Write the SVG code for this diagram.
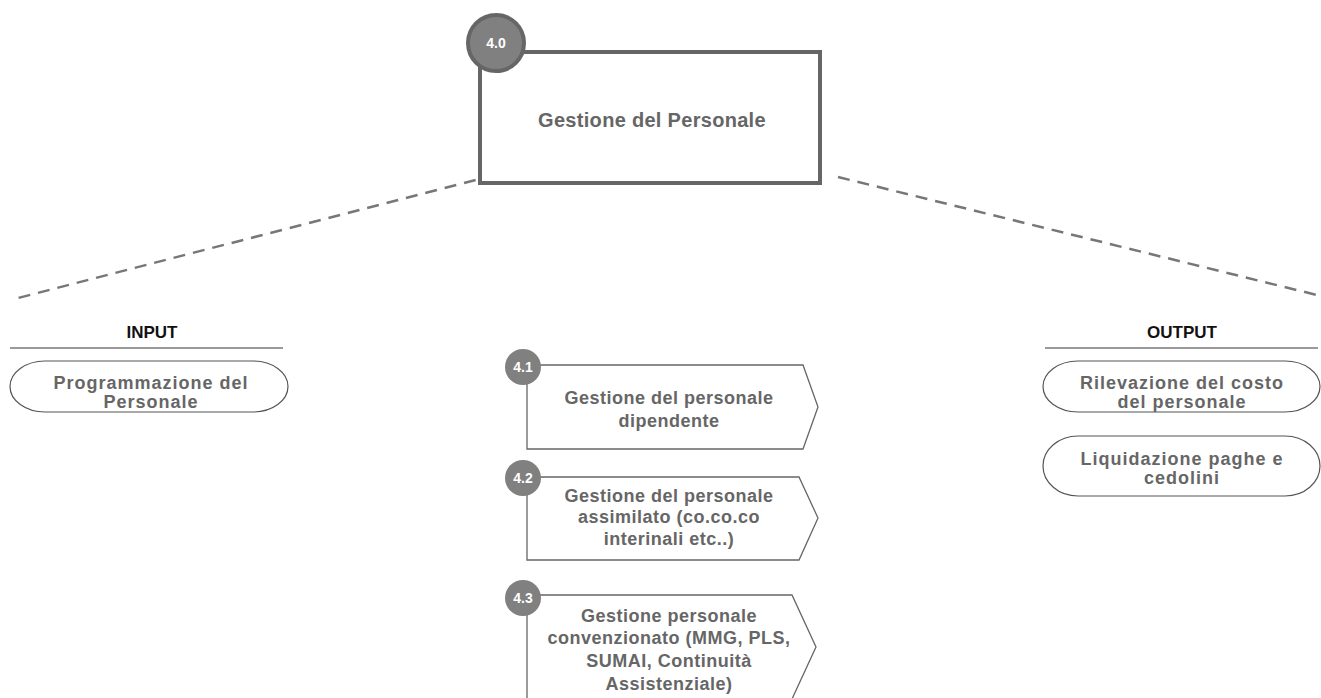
<svg xmlns="http://www.w3.org/2000/svg" width="1321" height="698" viewBox="0 0 1321 698">
<style>
.t{font-family:"Liberation Sans",Arial,sans-serif;font-weight:bold;fill:#666;text-anchor:middle}
.tn{font-size:18px;letter-spacing:0.5px}
.tp{font-size:18px;letter-spacing:1px}
.hd{font-family:"Liberation Sans",Arial,sans-serif;font-weight:bold;fill:#111;text-anchor:middle;font-size:17px}
.num{font-family:"Liberation Sans",Arial,sans-serif;font-weight:bold;fill:#fff;text-anchor:middle;font-size:14px}
.sub{fill:#fff;stroke:#666;stroke-width:1.3}
.pill{fill:#fff;stroke:#555;stroke-width:1.2}
.dash{stroke:#777;stroke-width:2.5;stroke-dasharray:12 8;fill:none}
</style>
<rect width="1321" height="698" fill="#fff"/>
<g id="connectors">
<line class="dash" x1="495" y1="175" x2="18" y2="298"/>
<line class="dash" x1="838" y1="177" x2="1321" y2="296"/>
</g>
<g id="n40">
<rect x="480" y="52" width="340" height="131" fill="#fff" stroke="#666" stroke-width="4"/>
<circle cx="496" cy="43" r="28" fill="#808080" stroke="#666" stroke-width="4"/>
<text class="num" x="496" y="48" font-size="15">4.0</text>
<text class="t" x="652" y="127" font-size="20" letter-spacing="0.3">Gestione del Personale</text>
</g>
<g id="input">
<text class="hd" x="152" y="338">INPUT</text>
<line x1="10" y1="348" x2="283" y2="348" stroke="#777" stroke-width="1.3"/>
</g>
<g id="in1">
<path class="pill" d="M45,361 H253 A35,25.5 0 0 1 253,412 H45 A35,25.5 0 0 1 45,361 Z"/>
<text class="t tp" x="151" y="389">Programmazione del</text>
<text class="t tp" x="151" y="408">Personale</text>
</g>
<g id="output">
<text class="hd" x="1182" y="338">OUTPUT</text>
<line x1="1045" y1="348" x2="1318" y2="348" stroke="#777" stroke-width="1.3"/>
</g>
<g id="out1">
<path class="pill" d="M1078,361 H1285 A35,25.5 0 0 1 1285,412 H1078 A35,25.5 0 0 1 1078,361 Z"/>
<text class="t tp" x="1182" y="389">Rilevazione del costo</text>
<text class="t tp" x="1182" y="408">del personale</text>
</g>
<g id="out2">
<path class="pill" d="M1078,436 H1285 A35,30 0 0 1 1285,496 H1078 A35,30 0 0 1 1078,436 Z"/>
<text class="t tp" x="1182" y="465">Liquidazione  paghe e</text>
<text class="t tp" x="1182" y="484">cedolini</text>
</g>
<g id="n41">
<polygon class="sub" points="527,365 803,365 818,407 803,449 527,449"/>
<circle cx="523" cy="367" r="18" fill="#808080"/>
<text class="num" x="523" y="372">4.1</text>
<text class="t tn" x="669" y="404">Gestione del personale</text>
<text class="t tn" x="669" y="427">dipendente</text>
</g>
<g id="n42">
<polygon class="sub" points="527,477 799,477 818,518 799,560 527,560"/>
<circle cx="523" cy="478" r="18" fill="#808080"/>
<text class="num" x="523" y="483">4.2</text>
<text class="t tn" x="669" y="502">Gestione del personale</text>
<text class="t tn" x="669" y="523">assimilato (co.co.co</text>
<text class="t tn" x="669" y="545">interinali etc..)</text>
</g>
<g id="n43">
<polygon class="sub" points="527,595 792,595 816,647 792,699 527,699"/>
<circle cx="523" cy="598" r="18" fill="#808080"/>
<text class="num" x="523" y="603">4.3</text>
<text class="t tn" x="669" y="622">Gestione personale</text>
<text class="t tn" x="669" y="644">convenzionato (MMG, PLS,</text>
<text class="t tn" x="669" y="667">SUMAI, Continuità</text>
<text class="t tn" x="669" y="690">Assistenziale)</text>
</g>
</svg>
